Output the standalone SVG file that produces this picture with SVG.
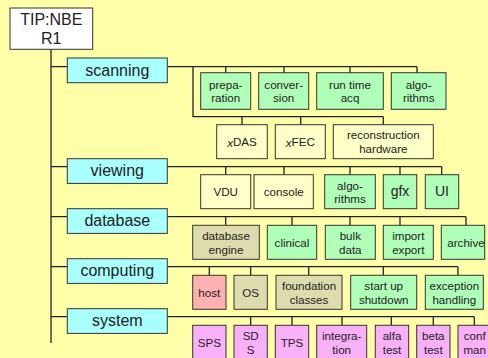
<svg xmlns="http://www.w3.org/2000/svg" width="488" height="358" viewBox="0 0 488 358">
<style>
text{font-family:"Liberation Sans",Arial,sans-serif;font-size:11.6px;fill:#222;text-anchor:middle;dominant-baseline:central}
.big{font-size:16px}
.mid{font-size:14px}
.b rect{stroke:#333;stroke-width:1}
.root{fill:#fff;stroke:#222}
.cat{fill:#AAFFFF}
.g{fill:#B0FFB8}
.y{fill:#FFFFC8}
.t{fill:#DEDCAE}
.p{fill:#FFB0B0}
.v{fill:#F8B0F8}
#connectors path{fill:none;stroke:#222;stroke-width:1.3}
</style>
<rect width="488" height="358" fill="#FFFFAA"/>
<g id="connectors">
<path d="M51 49V343M51 66.7H67.3M51 166.7H67.3M51 216.7H67.3M51 266.7H67.3M51 316.7H67.3"/>
<path d="M167.3 66.7H417M193 66.7V116.7H383.3M225.7 66.7V72.7M284 66.7V72.7M350 66.7V72.7M417 66.7V72.7M242 116.7V124.7M300.7 116.7V124.7M383.3 116.7V124.7"/>
<path d="M167.3 166.7H441.7M225.7 166.7V174.7M284 166.7V174.7M350 166.7V174.7M400 166.7V174.7M441.7 166.7V174.7"/>
<path d="M167.3 216.7H466M225.7 216.7V225.3M292 216.7V225.3M350 216.7V225.3M400 216.7V225.3M466 216.7V225.3"/>
<path d="M167.3 266.7H458M209.3 266.7V275.3M250.7 266.7V275.3M308.7 266.7V275.3M383.3 266.7V275.3M458 266.7V275.3"/>
<path d="M167.3 316.7H474.3M250.7 316.7V325.3M292 316.7V325.3M342 316.7V325.3M391.3 316.7V325.3M433.3 316.7V325.3M474.3 316.7V325.3"/>
</g>
<g id="root" class="b"><rect class="root" x="10" y="8" width="82.7" height="41.3"/><text class="big" x="51.3" y="19.5">TIP:NBE</text><text class="big" x="51.3" y="38.5">R1</text></g>
<g id="scanning" class="b"><rect class="cat" x="67.3" y="58" width="100" height="24.7"/><text class="big" x="117.3" y="70">scanning</text></g>
<g id="viewing" class="b"><rect class="cat" x="67.3" y="158.7" width="100" height="24.7"/><text class="big" x="117.3" y="170.5">viewing</text></g>
<g id="database" class="b"><rect class="cat" x="67.3" y="208.7" width="100" height="24.7"/><text class="big" x="117.3" y="220.5">database</text></g>
<g id="computing" class="b"><rect class="cat" x="67.3" y="258.7" width="100" height="24.7"/><text class="big" x="117.3" y="270.5">computing</text></g>
<g id="system" class="b"><rect class="cat" x="67.3" y="308.7" width="100" height="24.7"/><text class="big" x="117.3" y="320.5">system</text></g>

<g id="preparation" class="b"><rect class="g" x="200.7" y="72.7" width="50" height="36.6"/><text x="225.7" y="84.5">prepa-</text><text x="225.7" y="97.5">ration</text></g>
<g id="conversion" class="b"><rect class="g" x="258.7" y="72.7" width="50" height="36.6"/><text x="283.7" y="84.5">conver-</text><text x="283.7" y="97.5">sion</text></g>
<g id="runtime" class="b"><rect class="g" x="316.7" y="72.7" width="66.6" height="36.6"/><text x="350" y="84.5">run time</text><text x="350" y="97.5">acq</text></g>
<g id="algorithms1" class="b"><rect class="g" x="391.3" y="72.7" width="54.7" height="36.6"/><text x="418.7" y="84.5">algo-</text><text x="418.7" y="97.5">rithms</text></g>
<g id="xdas" class="b"><rect class="y" x="216.7" y="124.7" width="50.6" height="34"/><text x="242" y="141.7"><tspan font-style="italic">x</tspan>DAS</text></g>
<g id="xfec" class="b"><rect class="y" x="275.3" y="124.7" width="50" height="34"/><text x="300.3" y="141.7"><tspan font-style="italic">x</tspan>FEC</text></g>
<g id="recon" class="b"><rect class="y" x="333.3" y="124.7" width="100" height="34"/><text x="383.3" y="134.5">reconstruction</text><text x="383.3" y="148.5">hardware</text></g>

<g id="vdu" class="b"><rect class="y" x="200.7" y="174.7" width="50" height="34"/><text x="225.7" y="191.7">VDU</text></g>
<g id="console" class="b"><rect class="y" x="254" y="174.7" width="59.3" height="34"/><text x="283.7" y="191.7">console</text></g>
<g id="algorithms2" class="b"><rect class="g" x="324.7" y="174.7" width="50.6" height="34"/><text x="350" y="185">algo-</text><text x="350" y="198.5">rithms</text></g>
<g id="gfx" class="b"><rect class="g" x="383.3" y="174.7" width="33.4" height="34"/><text class="mid" x="400" y="191">gfx</text></g>
<g id="ui" class="b"><rect class="g" x="425.3" y="174.7" width="33.4" height="34"/><text class="mid" x="442" y="191">UI</text></g>

<g id="dbengine" class="b"><rect class="t" x="192.7" y="225.3" width="66.6" height="34"/><text x="226" y="235.5">database</text><text x="226" y="249">engine</text></g>
<g id="clinical" class="b"><rect class="g" x="267.3" y="225.3" width="49.4" height="34"/><text x="292" y="242.3">clinical</text></g>
<g id="bulk" class="b"><rect class="g" x="325.3" y="225.3" width="50" height="34"/><text x="350.3" y="235.5">bulk</text><text x="350.3" y="249">data</text></g>
<g id="import" class="b"><rect class="g" x="383.3" y="225.3" width="50" height="34"/><text x="408.3" y="235.5">import</text><text x="408.3" y="249">export</text></g>
<g id="archive" class="b"><rect class="g" x="441.3" y="225.3" width="43.4" height="34"/><text x="466" y="242.3">archive</text></g>

<g id="host" class="b"><rect class="p" x="192.7" y="275.3" width="33.3" height="34"/><text x="209.3" y="292.3">host</text></g>
<g id="os" class="b"><rect class="t" x="234" y="275.3" width="33.3" height="34"/><text x="250.7" y="292.3">OS</text></g>
<g id="foundation" class="b"><rect class="t" x="276" y="275.3" width="66" height="34"/><text x="309" y="285.5">foundation</text><text x="309" y="299">classes</text></g>
<g id="startup" class="b"><rect class="g" x="350.7" y="275.3" width="66" height="34"/><text x="383.7" y="285.5">start up</text><text x="383.7" y="299">shutdown</text></g>
<g id="exception" class="b"><rect class="g" x="425.3" y="275.3" width="58" height="34"/><text x="454.3" y="285.5">exception</text><text x="454.3" y="299">handling</text></g>

<g id="sps" class="b"><rect class="v" x="192.7" y="325.3" width="33.3" height="34"/><text x="209.3" y="342">SPS</text></g>
<g id="sds" class="b"><rect class="v" x="234" y="325.3" width="33.3" height="34"/><text x="250.7" y="335.5">SD</text><text x="250.7" y="349">S</text></g>
<g id="tps" class="b"><rect class="v" x="275.3" y="325.3" width="33.4" height="34"/><text x="292" y="342">TPS</text></g>
<g id="integration" class="b"><rect class="v" x="316.7" y="325.3" width="50" height="34"/><text x="341.7" y="335.5">integra-</text><text x="341.7" y="349">tion</text></g>
<g id="alfa" class="b"><rect class="v" x="375.3" y="325.3" width="33.4" height="34"/><text x="392" y="335.5">alfa</text><text x="392" y="349">test</text></g>
<g id="beta" class="b"><rect class="v" x="416.7" y="325.3" width="33.3" height="34"/><text x="433.3" y="335.5">beta</text><text x="433.3" y="349">test</text></g>
<g id="conf" class="b"><rect class="v" x="458" y="325.3" width="33.3" height="34"/><text x="474.7" y="335.5">conf</text><text x="474.7" y="349">man</text></g>
</svg>
